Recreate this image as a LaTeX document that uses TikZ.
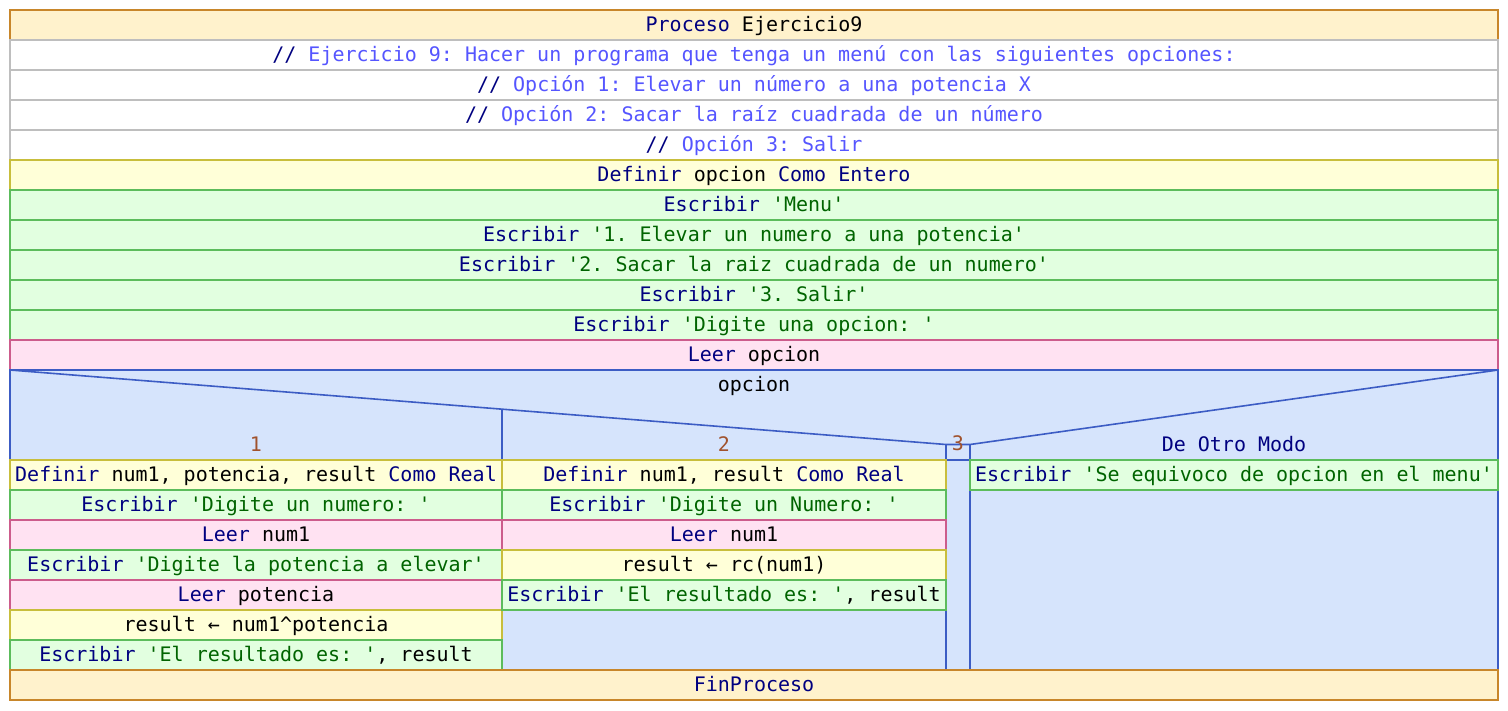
\documentclass[tikz,border=0pt]{standalone}
\usepackage{fontspec}
\setmonofont{DejaVu Sans Mono}
\definecolor{procf}{HTML}{FFF2CC}
\definecolor{procb}{HTML}{C8862A}
\definecolor{comb}{HTML}{BEBEBE}
\definecolor{deff}{HTML}{FFFFD8}
\definecolor{defb}{HTML}{C8BE3C}
\definecolor{escf}{HTML}{E2FFE0}
\definecolor{escb}{HTML}{5CBC5C}
\definecolor{leef}{HTML}{FFE2F2}
\definecolor{leeb}{HTML}{CC5C8C}
\definecolor{casef}{HTML}{D6E4FC}
\definecolor{caseb}{HTML}{3C5CC4}
\definecolor{kwc}{HTML}{000080}
\definecolor{stc}{HTML}{006400}
\definecolor{cmc}{HTML}{5555FF}
\definecolor{nmc}{HTML}{A0522D}
\newcommand\kw[1]{\textcolor{kwc}{#1}}
\newcommand\st[1]{\textcolor{stc}{#1}}
\newcommand\cm[1]{\textcolor{kwc}{//} \textcolor{cmc}{#1}}
\newcommand\nm[1]{\textcolor{nmc}{#1}}
\begin{document}
\begin{tikzpicture}[x=1pt,y=-1pt,
  font=\ttfamily\fontsize{20}{24}\selectfont,
  bx/.style={inner sep=0pt,outer sep=0pt,line width=1.6pt,minimum height=30pt,text=black,
    text height=16pt,text depth=2.6pt},
  full/.style={bx,minimum width=1488pt},
  cA/.style={bx,minimum width=492pt},
  cB/.style={bx,minimum width=444pt},
  cD/.style={bx,minimum width=528pt},
  proc/.style={draw=procb,fill=procf},
  com/.style={draw=comb,fill=white},
  defn/.style={draw=defb,fill=deff},
  esc/.style={draw=escb,fill=escf},
  lee/.style={draw=leeb,fill=leef},
  cline/.style={draw=caseb,line width=1.6pt},
  lbl/.style={inner sep=0pt,outer sep=0pt,text height=16pt,text depth=2.6pt}]
\useasboundingbox (0,0) rectangle (1508,710);
% top sequence
\node[full,proc] (p0) at (754,25) {\kw{Proceso} Ejercicio9};
\node[full,com] (c1) at (754,55) {\cm{Ejercicio 9: Hacer un programa que tenga un menú con las siguientes opciones:}};
\node[full,com] (c2) at (754,85) {\cm{Opción 1: Elevar un número a una potencia X}};
\node[full,com] (c3) at (754,115) {\cm{Opción 2: Sacar la raíz cuadrada de un número}};
\node[full,com] (c4) at (754,145) {\cm{Opción 3: Salir}};
\node[full,defn] (d0) at (754,175) {\kw{Definir} opcion \kw{Como Entero}};
\node[full,esc] (e1) at (754,205) {\kw{Escribir} \st{'Menu'}};
\node[full,esc] (e2) at (754,235) {\kw{Escribir} \st{'1. Elevar un numero a una potencia'}};
\node[full,esc] (e3) at (754,265) {\kw{Escribir} \st{'2. Sacar la raiz cuadrada de un numero'}};
\node[full,esc] (e4) at (754,295) {\kw{Escribir} \st{'3. Salir'}};
\node[full,esc] (e5) at (754,325) {\kw{Escribir} \st{'Digite una opcion: '}};
\node[full,lee] (l0) at (754,355) {\kw{Leer} opcion};
% case
\path[fill=casef] (10,370) rectangle (1498,670);
\draw[cline] (10,370) -- (946,444.5) -- (970,444.5) -- (1498,370);
\draw[cline] (10,670) -- (10,370) -- (1498,370) -- (1498,670);
\draw[cline] (502,409.4) -- (502,670);
\draw[cline] (946,444.5) -- (946,670);
\draw[cline] (970,444.5) -- (970,670);
\draw[cline] (946,460) -- (970,460);
\node[lbl] (cv) at (754,385) {opcion};
\node[lbl] (k1) at (256,445) {\nm{1}};
\node[lbl] (k2) at (724,445) {\nm{2}};
\node[lbl] (k3) at (958,444) {\nm{3}};
\node[lbl] (k4) at (1234,445) {\kw{De Otro Modo}};
% column 1
\node[cA,defn] (a1) at (256,475) {\kw{Definir} num1, potencia, result \kw{Como Real}};
\node[cA,esc] (a2) at (256,505) {\kw{Escribir} \st{'Digite un numero: '}};
\node[cA,lee] (a3) at (256,535) {\kw{Leer} num1};
\node[cA,esc] (a4) at (256,565) {\kw{Escribir} \st{'Digite la potencia a elevar'}};
\node[cA,lee] (a5) at (256,595) {\kw{Leer} potencia};
\node[cA,defn] (a6) at (256,625) {result ← num1\textasciicircum potencia};
\node[cA,esc] (a7) at (256,655) {\kw{Escribir} \st{'El resultado es: '}, result};
% column 2
\node[cB,defn] (b1) at (724,475) {\kw{Definir} num1, result \kw{Como Real}};
\node[cB,esc] (b2) at (724,505) {\kw{Escribir} \st{'Digite un Numero: '}};
\node[cB,lee] (b3) at (724,535) {\kw{Leer} num1};
\node[cB,defn] (b4) at (724,565) {result ← rc(num1)};
\node[cB,esc] (b5) at (724,595) {\kw{Escribir} \st{'El resultado es: '}, result};
% column 4
\node[cD,esc] (o1) at (1234,475) {\kw{Escribir} \st{'Se equivoco de opcion en el menu'}};
% end
\node[full,proc] (pf) at (754,685) {\kw{FinProceso}};
\end{tikzpicture}
\end{document}
